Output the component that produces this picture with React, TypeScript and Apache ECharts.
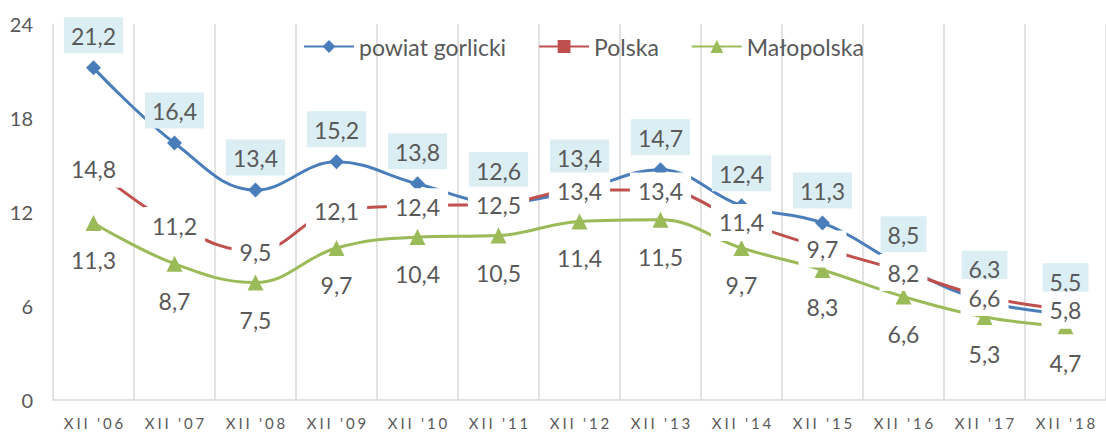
import React, { useEffect, useRef } from "react";
import * as echarts from "echarts";

const categories = ["XII '06", "XII '07", "XII '08", "XII '09", "XII '10", "XII '11", "XII '12", "XII '13", "XII '14", "XII '15", "XII '16", "XII '17", "XII '18"];
const powiatGorlicki = [21.2, 16.4, 13.4, 15.2, 13.8, 12.6, 13.4, 14.7, 12.4, 11.3, 8.5, 6.3, 5.5];
const polska = [14.8, 11.2, 9.5, 12.1, 12.4, 12.5, 13.4, 13.4, 11.4, 9.7, 8.2, 6.6, 5.8];
const malopolska = [11.3, 8.7, 7.5, 9.7, 10.4, 10.5, 11.4, 11.5, 9.7, 8.3, 6.6, 5.3, 4.7];
const seriesNames = ["powiat gorlicki", "Polska", "Małopolska"];

const FONT = "Lato";
const TEXT = "#595959";
const fmt = (v: number) => String(v).replace(".", ",");

export default function App() {
  const ref = useRef<HTMLDivElement>(null);
  useEffect(() => {
    document.body.style.margin = "0";
    const chart = echarts.init(ref.current!, null, { renderer: "svg" });
    const labelSeries = (data: number[], z: number, label: any) => ({
      type: "line",
      name: "_lbl" + z,
      data,
      z,
      symbol: "circle",
      symbolSize: 1,
      itemStyle: { color: "transparent" },
      lineStyle: { width: 0, opacity: 0 },
      silent: true,
      label: {
        show: true,
        fontFamily: FONT,
        fontSize: 23,
        color: TEXT,
        formatter: (p: any) => fmt(p.value),
        ...label,
      },
    });
    chart.setOption({
      animation: false,
      textStyle: { fontFamily: FONT },
      grid: { left: 53, top: 24, width: 1062, height: 376 },
      legend: {
        data: seriesNames,
        left: 298,
        top: 30,
        itemWidth: 50,
        itemHeight: 16,
        itemGap: 32,
        textStyle: { fontFamily: FONT, fontSize: 23, color: TEXT },
      },
      xAxis: {
        type: "category",
        data: categories,
        boundaryGap: true,
        axisLine: { lineStyle: { color: "#D9D9D9", width: 1.5 } },
        axisTick: { show: false },
        splitLine: { show: true, lineStyle: { color: "#D9D9D9", width: 1.5 } },
        axisLabel: {
          fontFamily: FONT,
          fontSize: 15,
          color: TEXT,
          margin: 15,
          formatter: (s: string) => s.split("").join("\u2009\u200A"),
        },
      },
      yAxis: {
        type: "value",
        min: 0,
        max: 24,
        interval: 6,
        axisLine: { show: false },
        axisTick: { show: false },
        splitLine: { show: false },
        axisLabel: { fontFamily: FONT, fontSize: 20, color: TEXT, margin: 20 },
      },
      series: [
        {
          type: "line",
          name: seriesNames[0],
          data: powiatGorlicki,
          smooth: 0.4,
          symbol: "diamond",
          symbolSize: 15,
          z: 2,
          itemStyle: { color: "#4A7EBB" },
          lineStyle: { width: 3, color: "#4A7EBB" },
        },
        {
          type: "line",
          name: seriesNames[1],
          data: polska,
          smooth: 0.4,
          symbol: "rect",
          symbolSize: 11,
          z: 3,
          itemStyle: { color: "#C0504D" },
          lineStyle: { width: 3, color: "#C0504D" },
        },
        {
          type: "line",
          name: seriesNames[2],
          data: malopolska,
          smooth: 0.4,
          symbol: "triangle",
          symbolSize: 16,
          z: 4,
          itemStyle: { color: "#9BBB59" },
          lineStyle: { width: 3, color: "#9BBB59" },
        },
        labelSeries(powiatGorlicki, 10, {
          position: "top",
          distance: 14,
          backgroundColor: "#DBEEF4",
          padding: [7, 7, 6, 7],
        }),
        labelSeries(malopolska, 11, {
          position: "bottom",
          distance: 22,
          backgroundColor: "#FFFFFF",
          padding: [3, 4],
        }),
        labelSeries(polska, 12, {
          position: "inside",
          offset: [0, 1],
          backgroundColor: "#FFFFFF",
          padding: [7, 8],
        }),
      ],
    });
    return () => chart.dispose();
  }, []);
  return <div ref={ref} style={{ width: 1106, height: 432 }} />;
}
